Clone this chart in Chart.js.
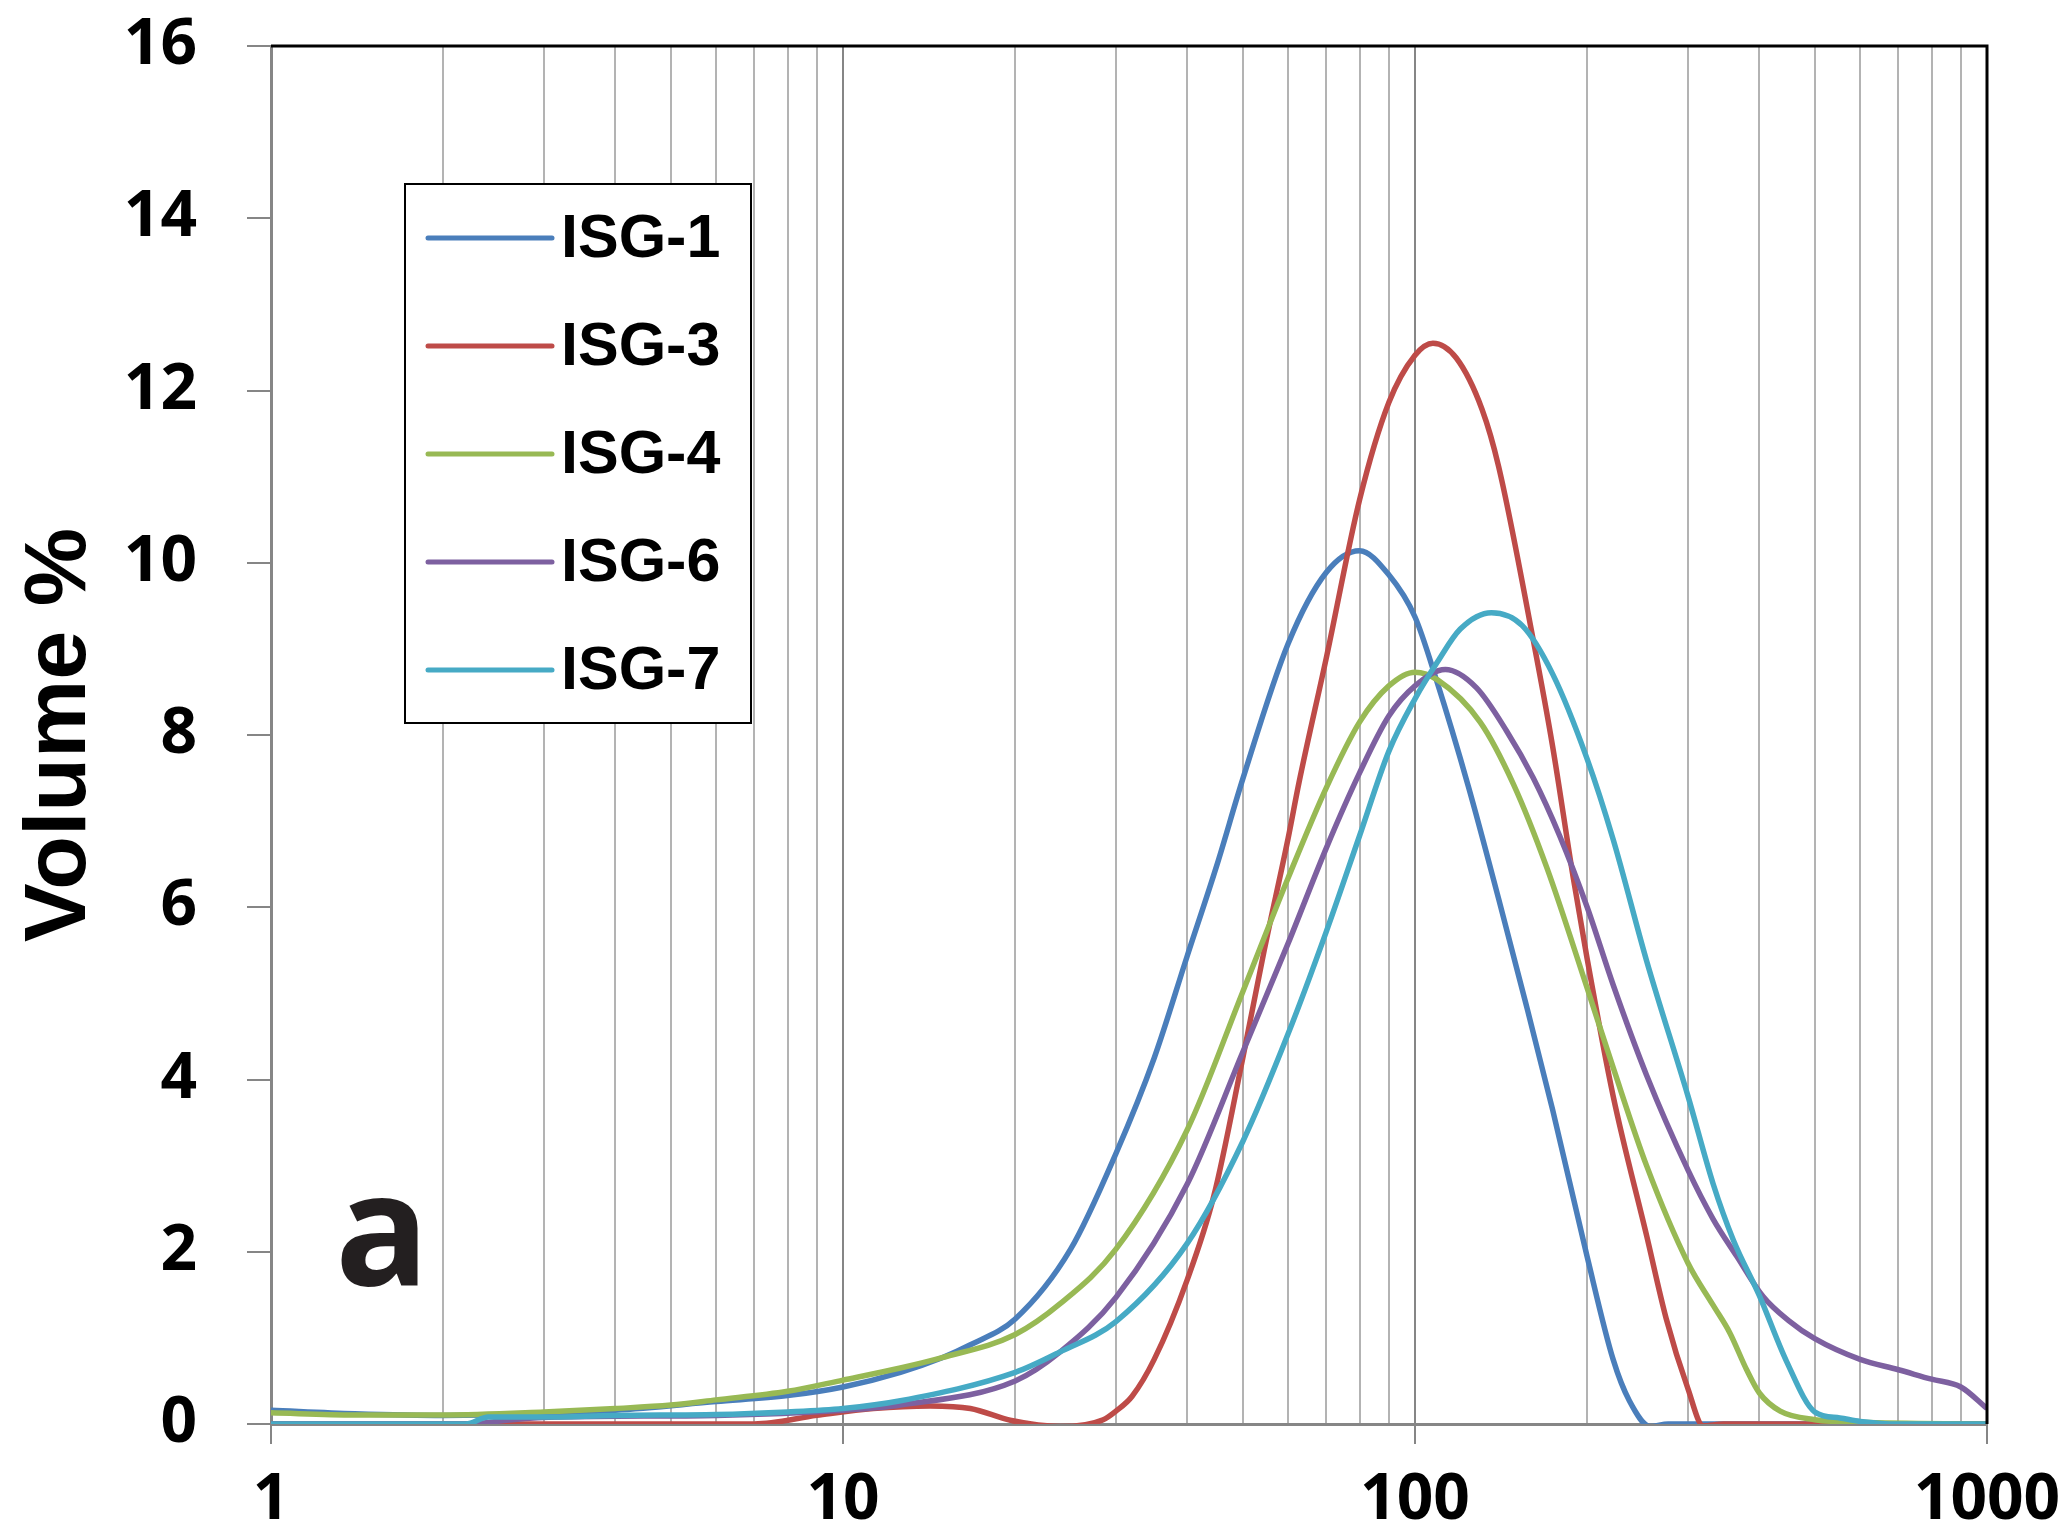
<!DOCTYPE html>
<html>
<head>
<meta charset="utf-8">
<script src="https://cdn.jsdelivr.net/npm/chart.js@4.4.1/dist/chart.umd.min.js"></script>
<style>
    html, body { margin: 0; padding: 0; background: #fff; }
</style>
</head>
<body>
<canvas id="psdChart" width="2063" height="1531"></canvas>
<script>
// particle size (um) and volume %, one pair of arrays per sample
const isg1Size = [1, 1.4, 2, 4, 6, 8, 10, 12.6, 14.9, 16.7, 20, 25, 30, 35, 40, 45, 50, 60, 70, 80, 90, 100, 109, 124, 140, 156, 174, 200, 222, 237, 258, 277, 300, 1000];
const isg1Vol = [0.16, 0.12, 0.10, 0.16, 0.26, 0.33, 0.43, 0.60, 0.77, 0.92, 1.22, 2.03, 3.14, 4.25, 5.44, 6.48, 7.49, 9.06, 9.89, 10.14, 9.86, 9.37, 8.64, 7.40, 6.10, 4.90, 3.65, 1.94, 0.75, 0.27, -0.03, 0, 0, 0];

const isg3Size = [1, 7, 9, 11.3, 14.2, 16.7, 19.7, 24, 28.5, 30, 32, 35, 40, 44.5, 50, 54.5, 60, 62.7, 70, 80, 90, 100, 107.5, 118, 131, 140, 161, 174, 189, 200, 222, 254, 275, 300, 319, 346, 1000];
const isg3Vol = [0, 0, 0.10, 0.18, 0.21, 0.18, 0.04, -0.03, 0.05, 0.15, 0.32, 0.75, 1.68, 2.65, 4.25, 5.50, 6.80, 7.45, 8.90, 10.73, 11.86, 12.41, 12.55, 12.38, 11.78, 11.12, 9.10, 7.87, 6.35, 5.40, 3.81, 2.19, 1.22, 0.41, -0.02, 0, 0];

const isg4Size = [1, 1.4, 2, 3, 4, 5, 6, 8, 10, 12.6, 14.9, 20, 24, 30, 40, 50, 60, 70, 80, 90, 100, 109.5, 130, 148.6, 170, 200, 222, 254, 300, 332, 355, 380, 400, 435, 500, 600, 1000];
const isg4Vol = [0.13, 0.105, 0.105, 0.14, 0.18, 0.22, 0.28, 0.38, 0.51, 0.65, 0.77, 1.04, 1.40, 2.03, 3.42, 5.02, 6.34, 7.39, 8.15, 8.57, 8.73, 8.64, 8.15, 7.43, 6.46, 5.06, 4.14, 3.00, 1.87, 1.38, 1.06, 0.63, 0.36, 0.15, 0.05, 0.02, 0];

const isg6Size = [1, 2.2, 2.64, 3.17, 6, 10, 12.6, 20, 24, 30, 40, 50, 60, 70, 80, 90, 100, 113, 128, 144.5, 161, 179, 200, 222, 254, 300, 332, 365, 406, 450, 500, 600, 700, 800, 900, 1000];
const isg6Vol = [0, 0, 0.05, 0.08, 0.10, 0.16, 0.22, 0.50, 0.84, 1.47, 2.79, 4.32, 5.58, 6.69, 7.56, 8.22, 8.57, 8.76, 8.55, 8.05, 7.50, 6.83, 6.00, 5.10, 4.05, 2.95, 2.38, 1.95, 1.48, 1.20, 0.99, 0.75, 0.63, 0.52, 0.43, 0.18];

const isg7Size = [1, 2.19, 2.4, 3, 4, 6, 8, 10, 12.6, 20, 24, 30, 40, 50, 60, 70, 80, 90, 100, 109.5, 120, 136, 154, 174, 200, 222, 254, 300, 332, 360, 400, 446, 500, 553, 600, 700, 1000];
const isg7Vol = [0, 0, 0.08, 0.08, 0.10, 0.11, 0.14, 0.18, 0.27, 0.60, 0.84, 1.19, 2.10, 3.28, 4.53, 5.72, 6.83, 7.81, 8.42, 8.85, 9.23, 9.42, 9.27, 8.71, 7.72, 6.79, 5.38, 3.81, 2.79, 2.14, 1.49, 0.73, 0.14, 0.07, 0.03, 0, 0];

const seriesNames = ['ISG-1', 'ISG-3', 'ISG-4', 'ISG-6', 'ISG-7'];
const seriesColors = ['#4a7ebb', '#be4b48', '#98b954', '#7d60a0', '#46aac5'];

// log axis: gridline at every 1..9 x 10^n, label only on decades
const xTickValues = [1, 2, 3, 4, 5, 6, 7, 8, 9, 10, 20, 30, 40, 50, 60, 70, 80, 90, 100, 200, 300, 400, 500, 600, 700, 800, 900, 1000];
const yTickValues = [0, 2, 4, 6, 8, 10, 12, 14, 16];
const yAxisTitle = 'Volume %';
const panelLetter = 'a';

const isDecade = v => [1, 10, 100, 1000].includes(v);
const toPoints = (xs, ys) => xs.map((x, i) => ({ x: x, y: ys[i] }));

const allSeries = [
    toPoints(isg1Size, isg1Vol),
    toPoints(isg3Size, isg3Vol),
    toPoints(isg4Size, isg4Vol),
    toPoints(isg6Size, isg6Vol),
    toPoints(isg7Size, isg7Vol)
];

// keep label overhang from eating into the plot area; layout padding decides it
function noScalePadding(scale) {
    scale.paddingLeft = 0;
    scale.paddingRight = 0;
    scale.paddingTop = 0;
    scale.paddingBottom = 0;
}

// legend box, black top/right frame and the panel letter
const extras = {
    id: 'extras',
    afterDraw(chart) {
        const ctx = chart.ctx;
        const a = chart.chartArea;
        ctx.save();
        ctx.strokeStyle = '#000';
        ctx.lineWidth = 3;
        ctx.beginPath();
        ctx.moveTo(a.left, a.top);
        ctx.lineTo(a.right, a.top);
        ctx.lineTo(a.right, a.bottom);
        ctx.stroke();

        ctx.fillStyle = '#231f20';
        ctx.font = 'bold 156px "Open Sans"';
        ctx.textBaseline = 'alphabetic';
        ctx.textAlign = 'left';
        ctx.fillText(panelLetter, 335, 1285);

        // legend
        ctx.fillStyle = '#fff';
        ctx.fillRect(405, 184, 346, 539);
        ctx.strokeStyle = '#000';
        ctx.lineWidth = 2;
        ctx.strokeRect(405, 184, 346, 539);
        ctx.font = 'bold 61px "Liberation Sans"';
        ctx.textBaseline = 'middle';
        chart.data.datasets.forEach((ds, i) => {
            const y = 238 + i * 108;
            ctx.strokeStyle = ds.borderColor;
            ctx.lineWidth = 5;
            ctx.lineCap = 'round';
            ctx.beginPath();
            ctx.moveTo(428, y);
            ctx.lineTo(552, y);
            ctx.stroke();
            ctx.fillStyle = '#000';
            ctx.fillText(ds.label, 561, y + 2);
        });
        ctx.restore();
    }
};

const ctx = document.getElementById('psdChart').getContext('2d');
new Chart(ctx, {
    type: 'line',
    data: {
        datasets: allSeries.map((pts, i) => ({
            label: seriesNames[i],
            data: pts,
            borderColor: seriesColors[i],
            backgroundColor: seriesColors[i],
            borderWidth: 5.5,
            pointRadius: 0,
            fill: false,
            cubicInterpolationMode: 'monotone',
            order: seriesNames.length - i
        }))
    },
    options: {
        responsive: false,
        animation: false,
        devicePixelRatio: 1,
        layout: { padding: { left: 0, top: 46, right: 76, bottom: 0 } },
        plugins: {
            legend: { display: false },
            tooltip: { enabled: false }
        },
        scales: {
            x: {
                type: 'logarithmic',
                min: 1,
                max: 1000,
                afterBuildTicks: scale => { scale.ticks = xTickValues.map(v => ({ value: v })); },
                afterFit: scale => { scale.height = 107; noScalePadding(scale); },
                ticks: {
                    autoSkip: false,
                    maxRotation: 0,
                    padding: 18,
                    color: '#000',
                    font: { family: '"Open Sans"', size: 64, weight: 'bold' },
                    callback: v => isDecade(v) ? String(v) : ''
                },
                grid: {
                    color: c => (c.tick && isDecade(c.tick.value)) ? '#868686' : '#b3b3b3',
                    lineWidth: 2,
                    tickLength: 20,
                    tickColor: c => (c.tick && isDecade(c.tick.value)) ? '#868686' : 'rgba(0,0,0,0)'
                },
                border: { color: '#868686', width: 3 }
            },
            y: {
                min: 0,
                max: 16,
                afterBuildTicks: scale => { scale.ticks = yTickValues.map(v => ({ value: v })); },
                afterFit: scale => { scale.width = 271; noScalePadding(scale); },
                ticks: {
                    padding: 50,
                    color: '#000',
                    font: { family: '"Open Sans"', size: 64, weight: 'bold' }
                },
                grid: {
                    drawOnChartArea: false,
                    color: '#868686',
                    lineWidth: 2,
                    tickLength: 24
                },
                border: { color: '#868686', width: 3 },
                title: {
                    display: true,
                    text: yAxisTitle,
                    color: '#000',
                    font: { family: '"Liberation Sans"', size: 88, weight: 'bold' },
                    padding: { top: 8, bottom: 0 }
                }
            }
        }
    },
    plugins: [extras]
});
</script>
</body>
</html>
